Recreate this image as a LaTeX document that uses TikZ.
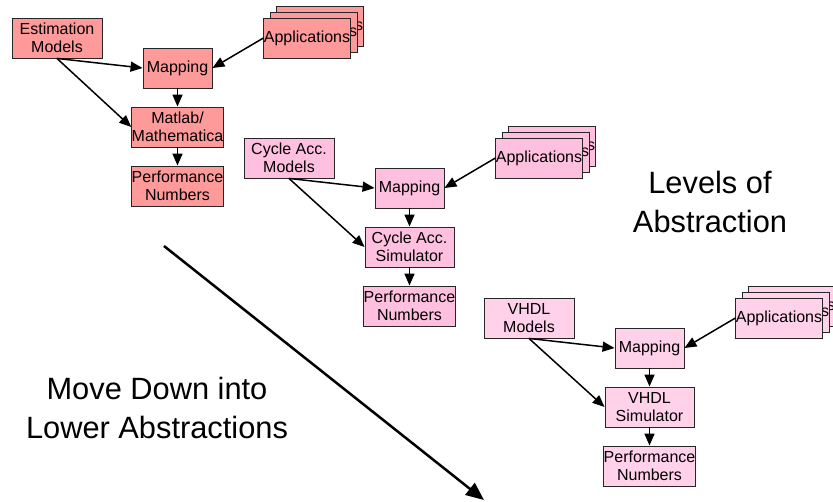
\documentclass[tikz,border=0pt]{standalone}
\usepackage{fontspec}
\setmainfont{Liberation Sans}
\usetikzlibrary{arrows.meta}

\definecolor{salmonbox}{HTML}{FF9A9A}
\definecolor{pinkbox}{HTML}{FFC0E0}
\definecolor{lightpinkbox}{HTML}{FFD2EA}

\tikzset{
  box/.style={draw=black!85, line width=0.9pt, inner sep=0pt, align=center,
              minimum height=40pt, font=\fontsize{16}{18}\selectfont},
  flow/.style={line width=1.5pt, -{Triangle[length=12pt,width=10pt]}},
  bigflow/.style={line width=2.5pt, -{Triangle[length=18pt,width=15pt]}},
  caption/.style={inner sep=0pt, align=center, font=\fontsize{30.8}{39}\selectfont}
}

% One level of the flow: models, mapping, simulator, numbers and a stack of applications.
% #1 shift, #2 name suffix, #3 fill colour, #4 models text, #5 simulator text
\newcommand\abstractionlevel[5]{%
  \begin{scope}[shift={#1}]
    \node[box, fill=#3, minimum width=90pt] (mod#2) at (57,38) {#4};
    \node[box, fill=#3, minimum width=69pt] (map#2) at (177.5,68) {Mapping};
    \node[box, fill=#3, minimum width=89pt] (sim#2) at (177.5,127) {#5};
    \node[box, fill=#3, minimum width=89pt] (perf#2) at (177.5,186) {Performance\\Numbers};
    \node[box, fill=#3, minimum width=86pt] (appc#2) at (320,26) {Applications};
    \node[box, fill=#3, minimum width=86pt] (appb#2) at (314,32) {Applications};
    \node[box, fill=#3, minimum width=86pt] (appa#2) at (307,38) {Applications};
    \draw[flow] (mod#2.south) -- (map#2.west);
    \draw[flow] (mod#2.south) -- (sim#2.west);
    \draw[flow] (appa#2.west) -- (map#2.east);
    \draw[flow] (map#2) -- (sim#2);
    \draw[flow] (sim#2) -- (perf#2);
  \end{scope}}

\begin{document}
\begin{tikzpicture}[x=1pt, y=-1pt]
  \useasboundingbox (0,0) rectangle (833,501);

  \abstractionlevel{(0,0)}{1}{salmonbox}{Estimation\\Models}{Matlab/\\Mathematica}
  \abstractionlevel{(232,120)}{2}{pinkbox}{Cycle Acc.\\Models}{Cycle Acc.\\Simulator}
  \abstractionlevel{(472,280)}{3}{lightpinkbox}{VHDL\\Models}{VHDL\\Simulator}

  \node[caption] (levels) at (710,202) {Levels of\\Abstraction};
  \node[caption] (movedown) at (157,408) {Move Down into\\Lower Abstractions};

  \coordinate (downstart) at (164,246);
  \coordinate (downend) at (484,500);
  \draw[bigflow] (downstart) -- (downend);
\end{tikzpicture}
\end{document}
